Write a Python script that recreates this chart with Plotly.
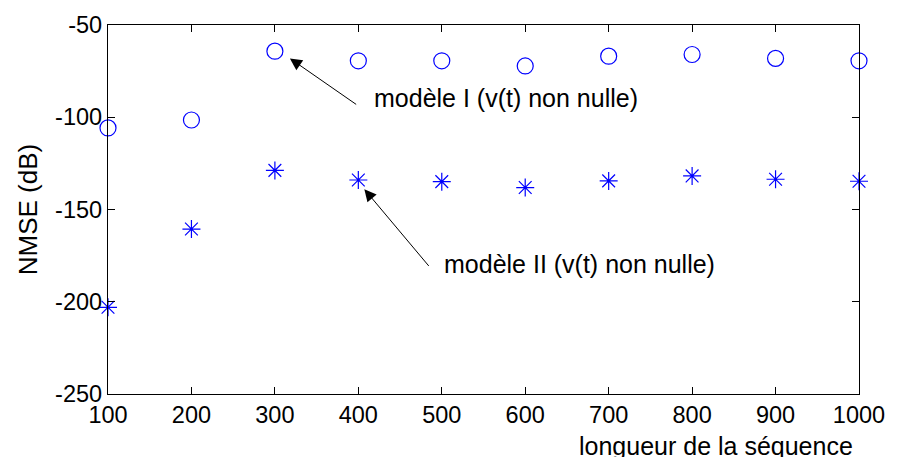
import plotly.graph_objects as go

seq_len = [100, 200, 300, 400, 500, 600, 700, 800, 900, 1000]
nmse_model1 = [-105.8, -101.5, -64.2, -69.4, -69.4, -72.2, -66.9, -66.0, -68.1, -69.4]
nmse_model2 = [-203.0, -160.6, -128.8, -134.0, -134.9, -138.1, -134.5, -131.8, -133.6, -134.7]
x_ticks = [100, 200, 300, 400, 500, 600, 700, 800, 900, 1000]
y_ticks = [-250, -200, -150, -100, -50]
label1 = "modèle I (v(t) non nulle)"
label2 = "modèle II (v(t) non nulle)"
xlabel = "longueur de la séquence"
ylabel = "NMSE (dB)"

FONT = "Liberation Sans, Arial, sans-serif"
BLUE = "#0000ff"

fig = go.Figure()
fig.add_trace(go.Scatter(x=seq_len, y=nmse_model1, mode="markers", cliponaxis=False,
                         marker=dict(symbol="circle-open", size=16, color=BLUE, line=dict(width=1.2, color=BLUE)),
                         showlegend=False))
fig.add_trace(go.Scatter(x=seq_len, y=nmse_model2, mode="markers", cliponaxis=False,
                         marker=dict(symbol="asterisk-open", size=15, color=BLUE, line=dict(width=1.2, color=BLUE)),
                         showlegend=False))

axis_common = dict(showgrid=False, zeroline=False, showline=True, linecolor="black", linewidth=1.3,
                   mirror="ticks", ticks="inside", ticklen=7, tickcolor="black", tickwidth=1,
                   tickfont=dict(family=FONT, size=23.5, color="black"))
fig.update_xaxes(range=[100, 1000], tickvals=x_ticks, ticktext=[str(v) for v in x_ticks], **axis_common)
fig.update_yaxes(range=[-250, -50], tickvals=y_ticks, ticktext=[str(v) for v in y_ticks],
                 title=dict(text=ylabel, font=dict(family=FONT, size=26, color="black"), standoff=10),
                 **axis_common)

# arrows
fig.add_annotation(x=318, y=-68.1, ax=399.2, ay=-93.6, xref="x", yref="y", axref="x", ayref="y",
                   text="", showarrow=True, arrowhead=2, arrowsize=2.4, arrowwidth=1, arrowcolor="black", standoff=0)
fig.add_annotation(x=407.2, y=-139.0, ax=485.9, ay=-181.4, xref="x", yref="y", axref="x", ayref="y",
                   text="", showarrow=True, arrowhead=2, arrowsize=2.4, arrowwidth=1, arrowcolor="black", standoff=0)
# labels
fig.add_annotation(x=415.8, y=-89.7, xref="x", yref="y", text=label1, showarrow=False,
                   xanchor="left", yanchor="middle", font=dict(family=FONT, size=25, color="black"))
fig.add_annotation(x=500.1, y=-179.4, xref="x", yref="y", text=label2, showarrow=False,
                   xanchor="left", yanchor="middle", font=dict(family=FONT, size=25, color="black"))
fig.add_annotation(x=1, y=0, xref="paper", yref="paper", text=xlabel, showarrow=False,
                   xanchor="right", yanchor="middle", xshift=-4, yshift=-51.5,
                   font=dict(family=FONT, size=25, color="black"))

fig.update_layout(width=897, height=457, margin=dict(l=108, r=31, t=23, b=62.5),
                  plot_bgcolor="white", paper_bgcolor="white")
fig.write_html("out.html")
